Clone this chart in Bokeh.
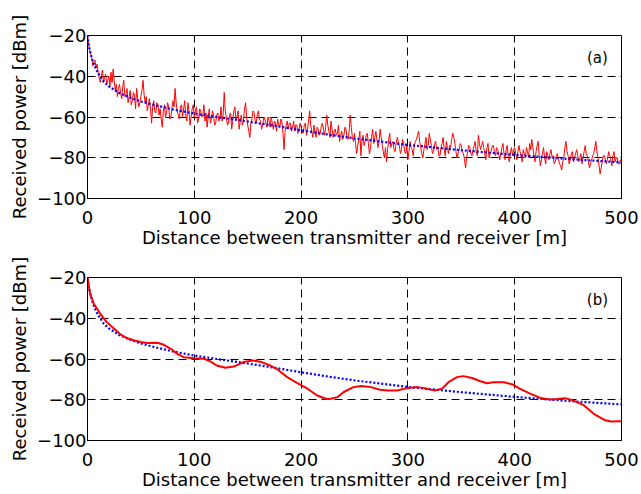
from bokeh.plotting import figure
from bokeh.layouts import column
from bokeh.models import FixedTicker, Label
from bokeh.embed import file_html
from bokeh.resources import INLINE

# ---- data ----
distance_a = list(range(0, 501))
power_a = [
    -20, -24, -27, -29, -31, -35, -33, -32, -36, -34,
    -38, -41, -43, -40, -37, -43, -41, -39, -44, -42,
    -40, -45, -38, -43, -36.5, -42, -47, -44, -50, -46,
    -44, -48, -51, -45, -42, -50, -49, -46, -53, -50,
    -47, -54, -52, -48, -49, -56, -46, -51, -55, -53,
    -50, -47, -42, -49, -53, -50, -57, -54, -51, -56,
    -63, -55, -52, -57, -58, -53, -54, -59, -56, -61,
    -65, -57, -54, -60, -58, -53, -55, -61, -60, -56,
    -52, -55, -46, -53, -57, -59, -61, -55, -54, -60,
    -56, -52, -59, -62, -53, -57, -64, -60, -56, -54,
    -60, -57, -55, -63, -61, -56, -57, -60, -59, -54,
    -62, -58, -65, -60, -56, -63, -61, -57, -59, -64,
    -63, -59, -58, -62, -61, -55, -62, -59, -48, -57,
    -60, -64, -63, -59, -58, -66, -62, -57, -55, -61,
    -60, -57, -66, -62, -59, -64, -62, -56, -53, -60,
    -64, -67, -70, -63, -61, -57, -58, -62, -63, -59,
    -57, -61, -62, -66, -64, -60, -61, -63, -65, -60,
    -62, -65, -60, -63, -66, -62, -63, -67, -61, -64,
    -65, -61, -62, -68, -76, -67, -64, -62, -66, -63,
    -63, -67, -65, -62, -67, -64, -64, -68, -66, -63,
    -65, -67, -68, -64, -63, -69, -66, -62, -57, -64,
    -67, -70, -64, -67, -70, -65, -66, -69, -68, -64,
    -63, -66, -69, -65, -59, -64, -67, -70, -62, -66,
    -70, -67, -66, -69, -68, -64, -72, -69, -67, -71,
    -69, -65, -66, -70, -71, -67, -59, -65, -70, -72,
    -68, -73, -78, -74, -71, -67, -79, -72, -69, -74,
    -72, -69, -68, -73, -78, -75, -70, -66, -73, -70,
    -67, -71, -75, -72, -66, -70, -74, -77, -80, -75,
    -82, -76, -71, -68, -75, -73, -72, -76, -77, -73,
    -70, -72, -74, -78, -76, -71, -73, -77, -78, -74,
    -81, -77, -72, -75, -76, -79, -74, -72, -71, -69,
    -67, -72, -75, -78, -80, -76, -73, -70, -76, -74,
    -68, -71, -74, -78, -77, -73, -72, -76, -75, -79,
    -79, -75, -73, -70, -76, -79, -72, -75, -78, -74,
    -75, -71, -68, -70, -73, -77, -80, -78, -76, -73,
    -74, -77, -78, -81, -85, -80, -77, -74, -75, -78,
    -79, -76, -74, -72, -77, -79, -69, -73, -76, -74,
    -72, -75, -78, -81, -75, -73, -80, -78, -77, -74,
    -74, -77, -79, -75, -76, -78, -81, -78, -75, -73,
    -78, -81, -76, -74, -80, -82, -77, -75, -79, -76,
    -75, -78, -81, -77, -74, -77, -79, -82, -76, -78,
    -80, -75, -77, -80, -73, -76, -71, -75, -79, -82,
    -77, -74, -72, -79, -84, -81, -78, -75, -80, -83,
    -77, -79, -81, -78, -76, -80, -79, -83, -82, -79,
    -78, -81, -83, -84, -86, -82, -80, -75, -72, -77,
    -79, -83, -81, -78, -77, -82, -80, -78, -76, -79,
    -82, -80, -78, -83, -80, -77, -74, -78, -79, -82,
    -85, -83, -81, -79, -78, -75, -72, -77, -80, -84,
    -88, -85, -82, -79, -79, -81, -83, -80, -77, -79,
    -81, -84, -79, -77, -82, -80, -80, -83, -83, -81,
    -82,
]

trend_d = [0, 1, 2, 4, 6, 8, 10, 15, 20, 30, 40, 50, 60, 80, 100, 125,
           150, 175, 200, 225, 250, 300, 350, 400, 450, 500]
trend_p = [-20, -24, -27, -31, -34, -36.5, -38.5, -42.5, -45, -48.3, -50.5,
           -52.4, -53.8, -56.3, -58.3, -60.3, -62.2, -64.3, -66.5, -68.6,
           -70.5, -73.7, -76.3, -78.6, -80.6, -82.3]

smooth_d = [0, 2.5, 6, 12, 18, 25, 31, 37, 44, 50, 56, 65, 71, 78, 84, 90,
            100, 109, 115, 121, 129, 137, 146, 155, 163, 171, 177, 187, 196,
            206, 215, 224, 228, 234, 240, 249, 256, 265, 274, 281, 290, 299,
            309, 315, 325, 332, 338, 346, 352, 360, 368, 374, 380, 390, 398,
            405, 415, 424, 433, 440, 447, 455, 465, 474, 484, 490, 500]
smooth_p = [-20, -28, -33, -37.8, -41.9, -45.2, -48, -49.8, -50.9, -51.7,
            -52.2, -52, -52.9, -55, -57.5, -59.1, -59.6, -59.9, -61.2, -63.2,
            -64.3, -63.7, -61.5, -60.7, -61.5, -63.2, -64.8, -68.9, -71.7,
            -74.6, -77.9, -79.6, -79.5, -78.7, -76.2, -73.8, -73.3, -73.8,
            -75.1, -75.5, -75.5, -74.3, -73.8, -74.3, -75.5, -74.6, -71.4,
            -68.9, -68.4, -69.3, -70.9, -71.9, -71.4, -71.4, -72.5, -74.7,
            -77.1, -79.1, -79.9, -79.6, -79.2, -80.4, -82.8, -86.9, -89.9,
            -90.7, -90.5]

x_ticks = [0, 100, 200, 300, 400, 500]
y_ticks = [-100, -80, -60, -40, -20]
x_title = "Distance between transmitter and receiver [m]"
y_title = "Received power [dBm]"
panel_tags = ["(a)", "(b)"]

FONT = "DejaVu Sans"


def make_panel(height, top, bottom, tag):
    p = figure(width=641, height=height, x_range=(0, 500), y_range=(-100, -20),
               output_backend="svg", toolbar_location=None,
               min_border_left=87, min_border_right=20,
               min_border_top=top, min_border_bottom=bottom,
               background_fill_color="white", border_fill_color="white")
    p.outline_line_color = "black"
    p.outline_line_width = 1
    for ax in (p.xaxis[0], p.yaxis[0]):
        ax.major_label_text_font = FONT
        ax.major_label_text_font_size = "18px"
        ax.major_label_text_color = "black"
        ax.axis_label_text_font = FONT
        ax.axis_label_text_font_size = "18px"
        ax.axis_label_text_font_style = "normal"
        ax.axis_label_text_color = "black"
        ax.axis_line_color = "black"
        ax.major_tick_line_color = "black"
        ax.major_tick_in = 5
        ax.major_tick_out = 0
        ax.minor_tick_line_color = None
    p.xaxis.ticker = FixedTicker(ticks=x_ticks)
    p.yaxis.ticker = FixedTicker(ticks=y_ticks)
    p.xaxis.axis_label = x_title
    p.yaxis.axis_label = y_title
    p.xaxis.major_label_standoff = 12
    p.xaxis.axis_label_standoff = 0
    p.yaxis.major_label_standoff = 1
    p.yaxis.axis_label_standoff = 4
    for g in (p.xgrid[0], p.ygrid[0]):
        g.grid_line_color = "black"
        g.grid_line_dash = "8 5"
        g.grid_line_width = 1
    p.add_layout(Label(x=477.5, y=-31.2, text=tag, text_align="center",
                       text_baseline="middle", text_font=FONT,
                       text_font_size="15px", text_color="black"))
    return p


p1 = make_panel(256, 35, 58, panel_tags[0])
p1.line(distance_a, power_a, line_color="#ff0000", line_width=1)
p1.line(trend_d, trend_p, line_color="#0000ff", line_width=2.2, line_dash="2 2")

p2 = make_panel(238, 21, 54, panel_tags[1])
p2.line(trend_d, trend_p, line_color="#0000ff", line_width=2.2, line_dash="2 2")
p2.line(smooth_d, smooth_p, line_color="#ff0000", line_width=2)

layout = column(p1, p2, spacing=0)
open("out.html", "w").write(file_html(layout, INLINE))
